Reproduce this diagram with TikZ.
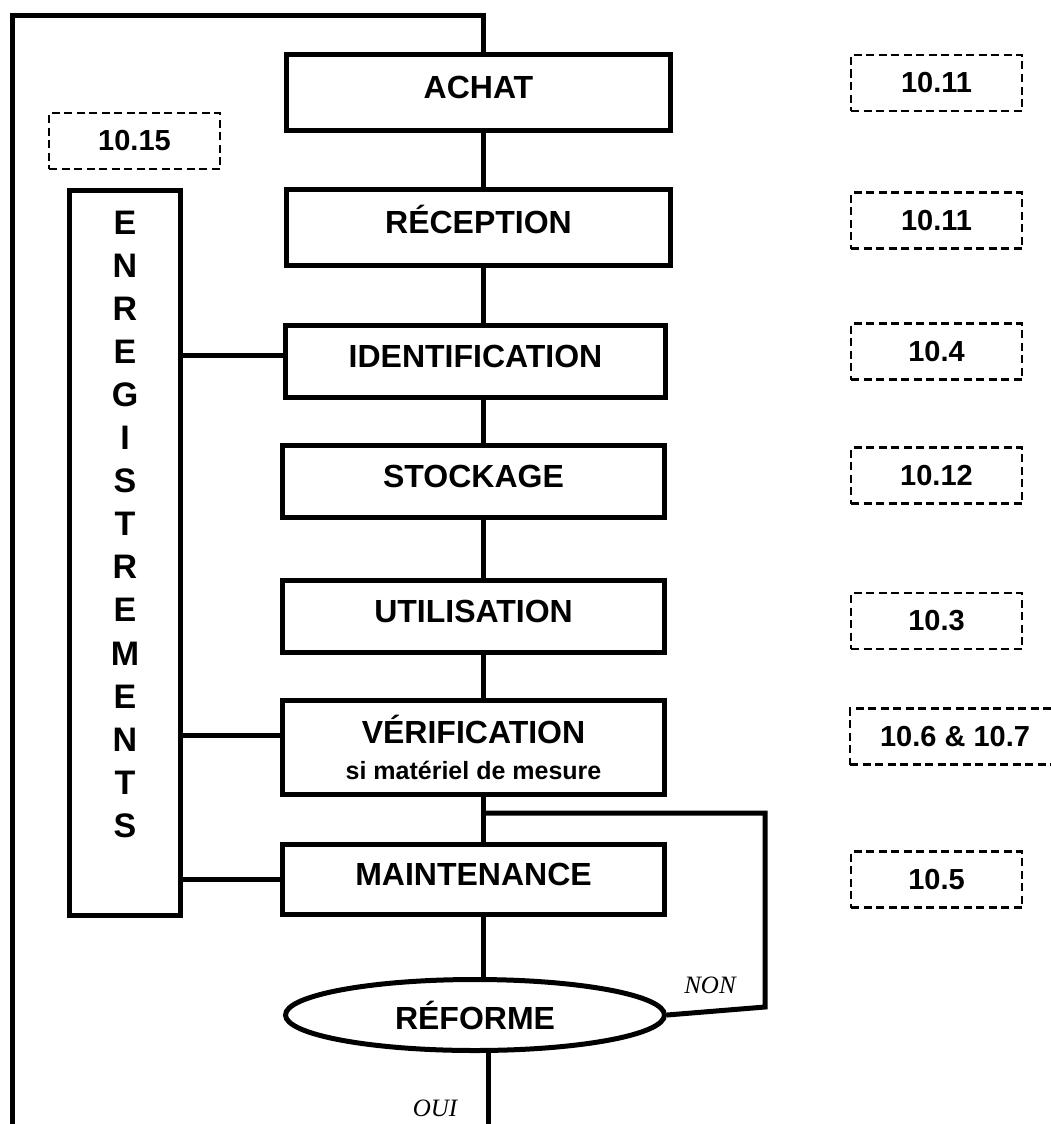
\documentclass[tikz,border=0pt]{standalone}
\usepackage{fontspec}
\setmainfont{Liberation Sans}
\newfontfamily\serifit{Liberation Serif}
\usetikzlibrary{shapes.geometric}
\begin{document}
\begin{tikzpicture}[x=1pt,y=-1pt,
  stepbox/.style={draw, line width=5pt, minimum width=382pt, inner sep=0pt,
    text height=23pt, text depth=12pt,
    align=center, font=\bfseries\fontsize{32}{38}\selectfont},
  refbox/.style={draw, line width=2.2pt, dash pattern=on 8pt off 4.5pt,
    minimum width=171pt, minimum height=56pt, inner sep=0pt,
    font=\bfseries\fontsize{29}{34}\selectfont},
  link/.style={line width=5pt},
  answer/.style={font=\serifit\itshape\fontsize{25}{30}\selectfont, inner sep=0pt}]

% page frame
\clip (0,0) rectangle (1051,1124);
\fill[white] (0,0) rectangle (1051,1124);

% main process steps
\node[stepbox, minimum width=384pt, minimum height=76pt] (achat) at (478.5,92.5)  {ACHAT};
\node[stepbox, minimum width=384pt, minimum height=76pt] (recep) at (478.5,227.5) {RÉCEPTION};
\node[stepbox, minimum width=380pt, minimum height=72pt] (ident) at (475.5,361.5) {IDENTIFICATION};
\node[stepbox, minimum height=72pt] (stock)  at (473.5,481.5) {STOCKAGE};
\node[stepbox, minimum height=72pt] (util)   at (473.5,616.5) {UTILISATION};
\node[stepbox, minimum height=94pt, text height=, text depth=] (verif) at (473.5,747.5)
  {VÉRIFICATION\\[-2pt]{\fontsize{25}{30}\selectfont si matériel de mesure}};
\node[stepbox, minimum height=70pt] (maint)  at (473.5,879.5) {MAINTENANCE};
\node[draw, ellipse, line width=5pt, minimum width=379pt, minimum height=71pt,
      inner sep=0pt, font=\bfseries\fontsize{32}{38}\selectfont] (reforme) at (475,1015) {RÉFORME};

% records column
\node[draw, line width=5pt, minimum width=111pt, minimum height=725pt, inner sep=0pt] (enreg) at (125,553) {};
\node[anchor=north, inner sep=0pt, align=center, font=\bfseries\fontsize{34}{43.07}\selectfont]
  (enregtext) at (125,210.7) {E\\N\\R\\E\\G\\I\\S\\T\\R\\E\\M\\E\\N\\T\\S};

% clause references
\node[refbox] (r1)  at (936.5,83)    {10.11};
\node[refbox] (r2)  at (936.5,220.5) {10.11};
\node[refbox] (r3)  at (936.5,351.5) {10.4};
\node[refbox] (r4)  at (936.5,475.5) {10.12};
\node[refbox] (r5)  at (936.5,621)   {10.3};
\node[refbox, minimum width=210pt] (r6) at (955,736.5) {10.6 \& 10.7};
\node[refbox] (r7)  at (936.5,879.5) {10.5};
\node[refbox] (r15) at (134.5,141)   {10.15};

% vertical flow along the spine
\coordinate (spine) at (483,0);
\draw[link] (achat.south -| spine) -- (recep.north -| spine);
\draw[link] (recep.south -| spine) -- (ident.north -| spine);
\draw[link] (ident.south -| spine) -- (stock.north -| spine);
\draw[link] (stock.south -| spine) -- (util.north -| spine);
\draw[link] (util.south -| spine)  -- (verif.north -| spine);
\draw[link] (verif.south -| spine) -- (maint.north -| spine);
\draw[link] (maint.south -| spine) -- ([xshift=8pt]reforme.north);

% links to the records column
\coordinate (identL) at ([yshift=6.5pt]ident.west);
\coordinate (verifL) at ([yshift=12.5pt]verif.west);
\draw[link] (identL) -- (enreg.east |- identL);
\draw[link] (verifL) -- (enreg.east |- verifL);
\draw[link] (maint.west) -- (enreg.east |- maint.west);

% loop back to purchase
\coordinate (loopTL) at (12.5,15.5);
\coordinate (loopEnd) at (12.5,1130);
\draw[link] (achat.north -| spine) |- (loopTL) -- (loopEnd);

% NON branch
\coordinate (nonTop) at (765,813);
\coordinate (nonBot) at (765,1007);
\coordinate (split) at (spine |- nonTop);
\draw[link] (reforme.east) -- (nonBot) -- (nonTop) -- (split);
\node[answer] (non) at (710,985) {NON};

% OUI exit
\coordinate (ouiEnd) at (488,1130);
\draw[link] ([xshift=13pt]reforme.south) -- (ouiEnd);
\node[answer] (oui) at (435,1108) {OUI};
\end{tikzpicture}
\end{document}
